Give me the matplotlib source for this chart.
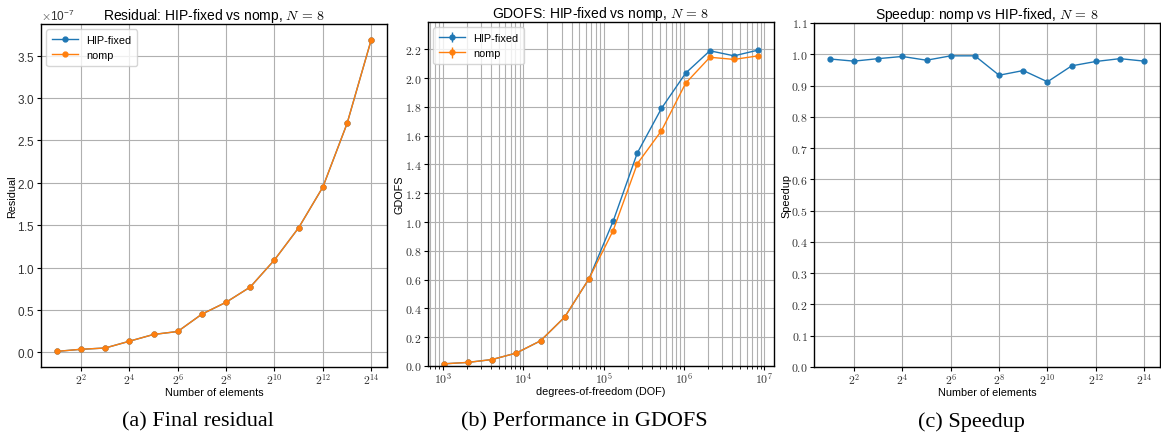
import numpy as np
import matplotlib
matplotlib.use("Agg")
import matplotlib.pyplot as plt
from matplotlib.ticker import FuncFormatter, FixedLocator, NullLocator, ScalarFormatter

plt.rcParams['mathtext.fontset'] = 'cm'
plt.rcParams['font.family'] = ['Liberation Sans', 'DejaVu Sans']
plt.rcParams['axes.unicode_minus'] = False

# ---- data ----
elements = [2**k for k in range(1, 15)]
dofs = [e * 512 for e in elements]
residual_hip = [0.01, 0.035, 0.05, 0.13, 0.21, 0.245, 0.45, 0.59, 0.77, 1.09, 1.47, 1.95, 2.70, 3.69]
residual_nomp = [0.01, 0.035, 0.05, 0.13, 0.21, 0.245, 0.45, 0.59, 0.77, 1.09, 1.47, 1.95, 2.70, 3.69]
gdofs_hip = [0.015, 0.025, 0.045, 0.09, 0.175, 0.34, 0.605, 1.005, 1.48, 1.79, 2.035, 2.19, 2.155, 2.195]
gdofs_nomp = [0.015, 0.025, 0.045, 0.09, 0.175, 0.34, 0.605, 0.94, 1.405, 1.635, 1.965, 2.145, 2.13, 2.155]
speedup = [0.985, 0.978, 0.986, 0.993, 0.981, 0.995, 0.995, 0.933, 0.948, 0.912, 0.963, 0.977, 0.986, 0.978]
captions = ["(a) Final residual", "(b) Performance in GDOFS", "(c) Speedup"]

blue = '#1f77b4'
orange = '#ff7f0e'

fig = plt.figure(figsize=(11.61, 4.35), dpi=100)
W, H = 1161, 435
def rect(l, r, t, b):
    return [l / W, 1 - b / H, (r - l) / W, (b - t) / H]

ax1 = fig.add_axes(rect(41, 387, 25, 368))
ax2 = fig.add_axes(rect(428, 774, 23, 367))
ax3 = fig.add_axes(rect(814, 1160, 24, 368))

tick_fs = 8.5
lab_fs = 7.8
title_fs = 10
leg_fs = 7.8
tick_col = '#333333'

def pow2_fmt(v, pos):
    e = int(round(np.log2(v)))
    return r'$2^{%d}$' % e

def dec_fmt(v, pos):
    return r'$%.1f$' % v

for ax in (ax1, ax2, ax3):
    ax.grid(True, color='#b0b0b0', linewidth=0.8)
    ax.set_axisbelow(True)
    for s in ax.spines.values():
        s.set_linewidth(1.0)
    ax.tick_params(labelsize=tick_fs, width=0.8, length=3, labelcolor=tick_col, pad=1.5)
    ax.tick_params(axis='x', pad=0.5)

# ---- (a) residual ----
ms = 3.5
ax1.plot(elements, np.array(residual_hip) * 1e-7, '-o', color=blue, lw=1, ms=ms, label='HIP-fixed')
ax1.plot(elements, np.array(residual_nomp) * 1e-7, '-o', color=orange, lw=1, ms=ms, label='nomp')
ax1.set_xscale('log', base=2)
ax1.xaxis.set_major_locator(FixedLocator([2**k for k in range(2, 15, 2)]))
ax1.xaxis.set_minor_locator(NullLocator())
ax1.xaxis.set_major_formatter(FuncFormatter(pow2_fmt))
sf = ScalarFormatter(useMathText=True)
sf.set_powerlimits((-3, 3))
ax1.yaxis.set_major_formatter(sf)
ax1.yaxis.get_offset_text().set_fontsize(tick_fs)
ax1.yaxis.get_offset_text().set_color(tick_col)
ax1.set_yticks(np.arange(0, 3.51, 0.5) * 1e-7)
ax1.set_title(r'Residual: HIP-fixed vs nomp, $N\,=\,8$', fontsize=title_fs, pad=3)
ax1.set_xlabel('Number of elements', fontsize=lab_fs)
ax1.set_ylabel('Residual', fontsize=lab_fs)
ax1.legend(loc='upper left', fontsize=leg_fs, handlelength=2.4, borderpad=0.5)

# ---- (b) GDOFS ----
err_hip = [0.002] * len(dofs)
err_nomp = [0.002] * len(dofs)
ax2.errorbar(dofs, gdofs_hip, yerr=err_hip, fmt='-o', color=blue, lw=1, ms=ms, label='HIP-fixed')
ax2.errorbar(dofs, gdofs_nomp, yerr=err_nomp, fmt='-o', color=orange, lw=1, ms=ms, label='nomp')
ax2.set_xscale('log')
ax2.grid(True, which='minor', axis='x', color='#b0b0b0', linewidth=0.8)
ax2.set_ylim(0, 2.39)
ax2.set_yticks(np.arange(0, 2.21, 0.2))
ax2.yaxis.set_major_formatter(FuncFormatter(dec_fmt))
ax2.xaxis.set_major_formatter(FuncFormatter(lambda v, p: r'$10^{%d}$' % int(round(np.log10(v)))))
ax2.set_title(r'GDOFS: HIP-fixed vs nomp, $N\,=\,8$', fontsize=title_fs, pad=3)
ax2.set_xlabel('degrees-of-freedom (DOF)', fontsize=lab_fs)
ax2.set_ylabel('GDOFS', fontsize=lab_fs)
ax2.legend(loc='upper left', fontsize=leg_fs, handlelength=2.4, borderpad=0.5)

# ---- (c) speedup ----
ax3.plot(elements, speedup, '-o', color=blue, lw=1, ms=ms)
ax3.set_xscale('log', base=2)
ax3.xaxis.set_major_locator(FixedLocator([2**k for k in range(2, 15, 2)]))
ax3.xaxis.set_minor_locator(NullLocator())
ax3.xaxis.set_major_formatter(FuncFormatter(pow2_fmt))
ax3.set_ylim(0, 1.1)
ax3.set_yticks(np.arange(0, 1.11, 0.1))
ax3.yaxis.set_major_formatter(FuncFormatter(dec_fmt))
ax3.set_title(r'Speedup: nomp vs HIP-fixed, $N\,=\,8$', fontsize=title_fs, pad=3)
ax3.set_xlabel('Number of elements', fontsize=lab_fs)
ax3.set_ylabel('Speedup', fontsize=lab_fs)

# label placement (axes coords)
ax1.yaxis.set_label_coords(-0.068, 0.5)
ax2.yaxis.set_label_coords(-0.068, 0.5)
ax3.yaxis.set_label_coords(-0.066, 0.5)
for ax in (ax1, ax2, ax3):
    ax.xaxis.set_label_coords(0.5, -0.058)

# ---- captions ----
for cx, cap in zip([197.5, 584.5, 971.7], captions):
    fig.text(cx / W, 1 - 422 / H, cap, ha='center', va='center',
             fontsize=16, family='Liberation Serif')

fig.savefig('out.png', dpi=100)
